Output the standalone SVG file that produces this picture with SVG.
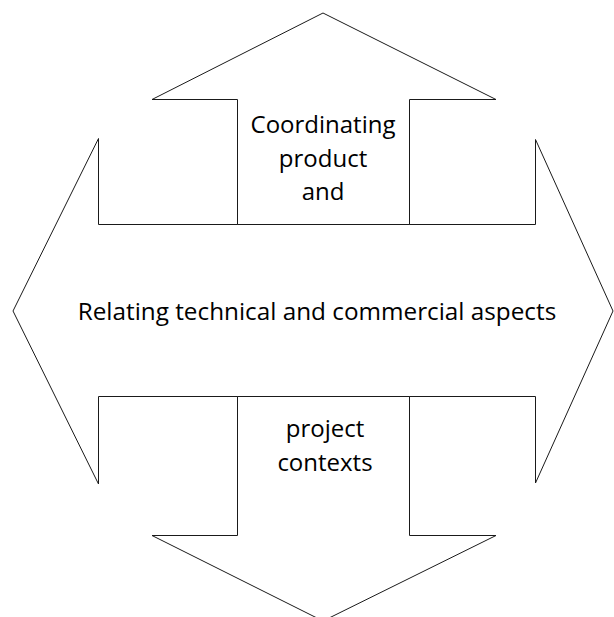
<svg xmlns="http://www.w3.org/2000/svg" width="614" height="617" viewBox="0 0 614 617">
  <style>
    .shape { fill: #ffffff; stroke: #1a1a1a; stroke-width: 1; stroke-linejoin: miter; }
    .label { font-family: "Open Sans", "Liberation Sans", sans-serif; font-size: 24px; fill: #000000; text-anchor: middle; }
    .main { font-size: 24.3px; }
  </style>
  <rect x="0" y="0" width="614" height="617" fill="#ffffff"/>
  <g id="horizontal-arrow">
    <polygon class="shape" points="98.5,138.5 98.5,224.5 535.5,224.5 535.5,139.5 613,311 535.5,483 535.5,396.5 98.5,396.5 98.5,484 13,311"/>
    <text class="label main" x="317" y="319.5">Relating technical and commercial aspects</text>
  </g>
  <g id="up-arrow">
    <polygon class="shape" points="323,13 496,99.5 409.5,99.5 409.5,224.5 237.5,224.5 237.5,99.5 152,99.5"/>
    <text class="label" x="323" y="133">Coordinating</text>
    <text class="label" x="323" y="166.5">product</text>
    <text class="label" x="323" y="200">and</text>
  </g>
  <g id="down-arrow">
    <polygon class="shape" points="237.5,396.5 409.5,396.5 409.5,535.5 496,535.5 323,621 152,535.5 237.5,535.5"/>
    <text class="label" x="325" y="437">project</text>
    <text class="label" x="325" y="471">contexts</text>
  </g>
  <g id="connectors"></g>
</svg>
